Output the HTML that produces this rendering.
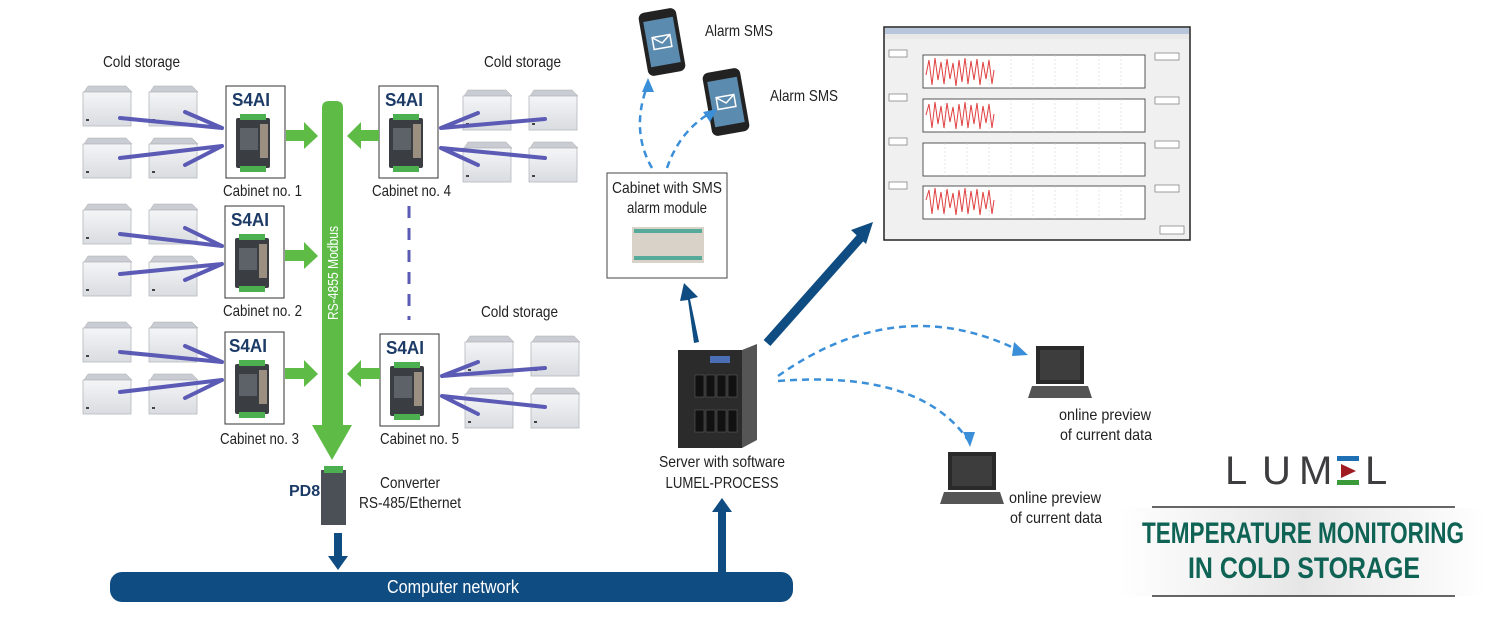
<!DOCTYPE html>
<html><head><meta charset="utf-8"><style>
html,body{margin:0;padding:0;background:#fff;}
svg{display:block;}
text{font-family:"Liberation Sans Narrow","Liberation Sans",sans-serif;}
</style></head><body>
<svg width="1500" height="617" viewBox="0 0 1500 617" xmlns="http://www.w3.org/2000/svg">
<defs>
<linearGradient id="fz" x1="0" y1="0" x2="0" y2="1"><stop offset="0" stop-color="#f4f5f7"/><stop offset="1" stop-color="#d9dce0"/></linearGradient>
<linearGradient id="tb" x1="0" y1="0" x2="1" y2="0"><stop offset="0" stop-color="#fff"/><stop offset="0.5" stop-color="#e6e6e6"/><stop offset="1" stop-color="#fff"/></linearGradient>
<g id="frz">
 <path d="M2 6 L6 0 L44 0 L50 6 Z" fill="#c9ccd2" stroke="#aaa" stroke-width="0.5"/>
 <rect x="1" y="6" width="48" height="34" fill="url(#fz)" stroke="#b5b8bd" stroke-width="0.8"/>
 <rect x="4" y="33" width="3" height="2" fill="#444"/>
</g>
<g id="dev">
 <rect x="0" y="4" width="34" height="50" rx="2" fill="#3a3e42"/>
 <rect x="4" y="0" width="26" height="6" fill="#4caf50"/>
 <rect x="4" y="52" width="26" height="6" fill="#4caf50"/>
 <rect x="4" y="14" width="18" height="22" fill="#5c6268"/>
 <rect x="24" y="10" width="8" height="34" fill="#9a8f80"/>
</g>
<g id="grp">
 <use href="#frz" x="0" y="0"/><use href="#frz" x="66" y="0"/>
 <use href="#frz" x="0" y="52"/><use href="#frz" x="66" y="52"/>
</g>
<g id="phone">
 <rect x="0" y="0" width="38" height="64" rx="6" fill="#222"/>
 <rect x="4" y="9" width="30" height="46" fill="#5c8bb0"/>
 <rect x="10" y="26" width="18" height="12" fill="none" stroke="#fff" stroke-width="1.5"/>
 <path d="M10 26 L19 33 L28 26" fill="none" stroke="#fff" stroke-width="1.5"/>
</g>
<g id="laptop">
 <path d="M4 0 H52 V38 H4 Z" fill="#2a2a2a"/>
 <rect x="8" y="4" width="40" height="30" fill="#3d3d3d"/>
 <path d="M0 40 H56 L60 52 H-4 Z" fill="#555"/>
</g>
</defs>

<use href="#grp" x="82" y="86"/>
<use href="#grp" x="82" y="204"/>
<use href="#grp" x="82" y="322"/>
<use href="#grp" x="462" y="90"/>
<use href="#grp" x="464" y="336"/>

<g stroke="#5b5bb6" stroke-width="4" fill="none" stroke-linecap="round">
 <path d="M120 118 L222 128 M185 112 L222 128 M120 158 L222 146 M185 165 L222 146"/>
 <path d="M120 234 L222 246 M185 228 L222 246 M120 274 L222 264 M185 280 L222 264"/>
 <path d="M120 352 L222 362 M185 346 L222 362 M120 392 L222 380 M185 398 L222 380"/>
 <path d="M545 119 L441 128 M478 113 L441 128 M545 158 L441 148 M478 165 L441 148"/>
 <path d="M545 368 L442 376 M478 362 L442 376 M545 407 L442 396 M478 414 L442 396"/>
</g>
<path d="M409 206 V320" stroke="#5b5bb6" stroke-width="3" stroke-dasharray="12 10"/>

<g fill="#fff" stroke="#333" stroke-width="1">
 <rect x="226" y="86" width="59" height="92"/>
 <rect x="225" y="206" width="59" height="92"/>
 <rect x="225" y="332" width="59" height="92"/>
 <rect x="379" y="86" width="59" height="92"/>
 <rect x="380" y="334" width="59" height="92"/>
</g>
<use href="#dev" x="236" y="114"/><use href="#dev" x="235" y="234"/><use href="#dev" x="235" y="360"/>
<use href="#dev" x="389" y="114"/><use href="#dev" x="390" y="362"/>
<g font-weight="bold" font-size="18" fill="#1b3a66">
 <text x="232" y="106" textLength="38" lengthAdjust="spacingAndGlyphs">S4AI</text><text x="231" y="226" textLength="38" lengthAdjust="spacingAndGlyphs">S4AI</text><text x="229" y="352" textLength="38" lengthAdjust="spacingAndGlyphs">S4AI</text>
 <text x="385" y="106" textLength="38" lengthAdjust="spacingAndGlyphs">S4AI</text><text x="386" y="354" textLength="38" lengthAdjust="spacingAndGlyphs">S4AI</text>
</g>
<g font-size="16" fill="#222" lengthAdjust="spacingAndGlyphs">
 <text x="103" y="67" textLength="77" lengthAdjust="spacingAndGlyphs">Cold storage</text>
 <text x="484" y="67" textLength="77" lengthAdjust="spacingAndGlyphs">Cold storage</text>
 <text x="481" y="317" textLength="77" lengthAdjust="spacingAndGlyphs">Cold storage</text>
 <text x="223" y="196" textLength="79" lengthAdjust="spacingAndGlyphs">Cabinet no. 1</text>
 <text x="223" y="316" textLength="79" lengthAdjust="spacingAndGlyphs">Cabinet no. 2</text>
 <text x="220" y="444" textLength="79" lengthAdjust="spacingAndGlyphs">Cabinet no. 3</text>
 <text x="372" y="196" textLength="79" lengthAdjust="spacingAndGlyphs">Cabinet no. 4</text>
 <text x="380" y="444" textLength="79" lengthAdjust="spacingAndGlyphs">Cabinet no. 5</text>
</g>

<g fill="#5dbb46">
 <path d="M322 108 Q322 101 329 101 H336 Q343 101 343 108 V425 H352 L332 460 L312 425 H322 Z"/>
 <path d="M286 130 H304 V122 L318 136 L304 149 V141 H286 Z"/>
 <path d="M285 250 H304 V242 L318 256 L304 269 V261 H285 Z"/>
 <path d="M285 368 H304 V360 L318 374 L304 387 V379 H285 Z"/>
 <path d="M379 130 H361 V122 L347 136 L361 149 V141 H379 Z"/>
 <path d="M380 368 H361 V360 L347 374 L361 387 V379 H380 Z"/>
</g>
<text transform="translate(338,320) rotate(-90)" font-size="15" fill="#fff" textLength="94" lengthAdjust="spacingAndGlyphs">RS-4855 Modbus</text>

<rect x="321" y="470" width="25" height="55" fill="#4a5055"/>
<rect x="324" y="466" width="19" height="7" fill="#4caf50"/>
<text x="289" y="496" font-weight="bold" font-size="16" fill="#1b3a66">PD8</text>
<g font-size="16" fill="#222">
<text x="380" y="488" textLength="60" lengthAdjust="spacingAndGlyphs">Converter</text>
<text x="359" y="508" textLength="102" lengthAdjust="spacingAndGlyphs">RS-485/Ethernet</text>
</g>

<rect x="110" y="572" width="683" height="30" rx="12" fill="#0f4c81"/>
<text x="453" y="593" font-size="18" fill="#fff" text-anchor="middle" textLength="132" lengthAdjust="spacingAndGlyphs">Computer network</text>
<path d="M334 533 H342 V556 H348 L338 570 L328 556 H334 Z" fill="#0f4c81"/>
<path d="M718 572 V512 H712 L722 498 L732 512 H726 V572 Z" fill="#0f4c81"/>

<rect x="678" y="350" width="64" height="98" fill="#2b2b2b"/>
<path d="M742 350 L757 344 V440 L742 448 Z" fill="#555"/>
<g fill="#111" stroke="#666" stroke-width="0.5">
 <rect x="706" y="375" width="9" height="22"/><rect x="717" y="375" width="9" height="22"/><rect x="728" y="375" width="9" height="22"/><rect x="695" y="375" width="9" height="22"/>
 <rect x="706" y="410" width="9" height="22"/><rect x="717" y="410" width="9" height="22"/><rect x="728" y="410" width="9" height="22"/><rect x="695" y="410" width="9" height="22"/>
</g>
<rect x="710" y="356" width="20" height="7" fill="#4a6fb5"/>
<g font-size="16" fill="#222" text-anchor="middle">
<text x="722" y="467" textLength="126" lengthAdjust="spacingAndGlyphs">Server with software</text>
<text x="722" y="488" textLength="113" lengthAdjust="spacingAndGlyphs">LUMEL-PROCESS</text>
</g>

<path d="M694 343 L688 300 L680 301 L684 283 L698 297 L690 299 L699 342 Z" fill="#0f4c81"/>
<path d="M767 343 L862 236" stroke="#0f4c81" stroke-width="9"/>
<path d="M873 222 L851 230 L866 244 Z" fill="#0f4c81"/>

<rect x="607" y="173" width="120" height="105" fill="#fff" stroke="#444"/>
<g font-size="16" fill="#222" text-anchor="middle">
<text x="667" y="193" textLength="110" lengthAdjust="spacingAndGlyphs">Cabinet with SMS</text>
<text x="667" y="213" textLength="80" lengthAdjust="spacingAndGlyphs">alarm module</text>
</g>
<rect x="632" y="227" width="72" height="36" fill="#d8d2c8"/>
<rect x="634" y="229" width="68" height="4" fill="#5a9"/>
<rect x="634" y="256" width="68" height="4" fill="#5a9"/>

<use href="#phone" transform="translate(643,10) rotate(-10 19 32)"/>
<use href="#phone" transform="translate(707,70) rotate(-10 19 32)"/>
<g font-size="16" fill="#222">
<text x="705" y="36" textLength="68" lengthAdjust="spacingAndGlyphs">Alarm SMS</text>
<text x="770" y="101" textLength="68" lengthAdjust="spacingAndGlyphs">Alarm SMS</text>
</g>
<g fill="none" stroke="#3a8fd8" stroke-width="2.5" stroke-dasharray="7 5">
 <path d="M652 168 Q630 130 648 84"/>
 <path d="M667 168 Q680 130 712 112"/>
 <path d="M778 376 Q900 290 1022 352"/>
 <path d="M778 381 Q920 370 968 440"/>
</g>
<g fill="#3a8fd8">
 <path d="M648 78 L642 92 L654 92 Z"/>
 <path d="M717 109 L703 112 L710 122 Z"/>
 <path d="M1028 355 L1014 342 L1012 356 Z"/>
 <path d="M970 447 L963 432 L975 432 Z"/>
</g>

<use href="#laptop" x="1032" y="346"/>
<use href="#laptop" x="944" y="452"/>
<g font-size="16" fill="#222" text-anchor="middle">
<text x="1105" y="420" textLength="92" lengthAdjust="spacingAndGlyphs">online preview</text>
<text x="1106" y="440" textLength="92" lengthAdjust="spacingAndGlyphs">of current data</text>
<text x="1055" y="503" textLength="92" lengthAdjust="spacingAndGlyphs">online preview</text>
<text x="1056" y="523" textLength="92" lengthAdjust="spacingAndGlyphs">of current data</text>
</g>

<rect x="884" y="27" width="306" height="213" fill="#f0f0f0" stroke="#222" stroke-width="1.5"/>
<rect x="885" y="28" width="304" height="6" fill="#b7c6da"/>
<rect x="885" y="34" width="304" height="5" fill="#e8e8e8"/>
<g fill="#fff" stroke="#555" stroke-width="1">
 <rect x="923" y="55" width="222" height="33"/><rect x="923" y="99" width="222" height="33"/>
 <rect x="923" y="143" width="222" height="33"/><rect x="923" y="186" width="222" height="33"/>
</g>
<g fill="#fff" stroke="#777" stroke-width="0.7">
 <rect x="889" y="50" width="18" height="7"/><rect x="889" y="94" width="18" height="7"/><rect x="889" y="138" width="18" height="7"/><rect x="889" y="182" width="18" height="7"/>
 <rect x="1155" y="53" width="24" height="7"/><rect x="1155" y="97" width="24" height="7"/><rect x="1155" y="141" width="24" height="7"/><rect x="1155" y="185" width="24" height="7"/>
 <rect x="1160" y="226" width="24" height="8"/>
</g>
<g stroke="#ccc" stroke-width="0.5" stroke-dasharray="2 2">
 <path d="M945 55 V88 M967 55 V88 M989 55 V88 M1011 55 V88 M1033 55 V88 M1055 55 V88 M1077 55 V88 M1099 55 V88 M1121 55 V88"/>
 <path d="M945 99 V132 M967 99 V132 M989 99 V132 M1011 99 V132 M1033 99 V132 M1055 99 V132 M1077 99 V132 M1099 99 V132 M1121 99 V132"/>
 <path d="M945 143 V176 M967 143 V176 M989 143 V176 M1011 143 V176 M1033 143 V176 M1055 143 V176 M1077 143 V176 M1099 143 V176 M1121 143 V176"/>
 <path d="M945 186 V219 M967 186 V219 M989 186 V219 M1011 186 V219 M1033 186 V219 M1055 186 V219 M1077 186 V219 M1099 186 V219 M1121 186 V219"/>
</g>
<g fill="none" stroke="#e04040" stroke-width="1">
 <path d="M926 75 L929 60 L932 85 L935 58 L938 80 L941 62 L944 84 L947 59 L950 79 L953 63 L956 86 L959 60 L962 82 L965 58 L968 84 L971 61 L974 80 L977 59 L980 85 L983 62 L986 79 L989 60 L992 84 L994 70"/>
 <path d="M926 115 L929 104 L932 128 L935 102 L938 124 L941 106 L944 128 L947 103 L950 122 L953 107 L956 129 L959 104 L962 126 L965 102 L968 128 L971 105 L974 124 L977 103 L980 129 L983 106 L986 123 L989 104 L992 128 L994 114"/>
 <path d="M926 200 L929 190 L932 214 L935 188 L938 210 L941 192 L944 214 L947 189 L950 208 L953 193 L956 215 L959 190 L962 212 L965 188 L968 214 L971 191 L974 210 L977 189 L980 215 L983 192 L986 209 L989 190 L992 214 L994 200"/>
</g>

<g font-family="Liberation Sans,sans-serif" font-size="40" fill="#3d3d3f">
<text x="1225" y="484">L</text>
<text x="1262" y="484">U</text>
<text x="1299" y="484">M</text>
<text x="1365" y="484">L</text>
</g>
<rect x="1337" y="456" width="22" height="5" fill="#1f6fb4"/>
<path d="M1341 464 L1356 471 L1341 478 Z" fill="#a01a22"/>
<rect x="1337" y="480" width="22" height="5" fill="#3a9a3a"/>

<rect x="1120" y="508" width="365" height="88" fill="url(#tb)"/>
<line x1="1152" y1="507" x2="1455" y2="507" stroke="#333" stroke-width="1.5"/>
<line x1="1152" y1="596" x2="1455" y2="596" stroke="#333" stroke-width="1.5"/>
<g font-weight="bold" fill="#0f6355" text-anchor="middle" font-size="30">
 <text x="1303" y="543" textLength="322" lengthAdjust="spacingAndGlyphs">TEMPERATURE MONITORING</text>
 <text x="1304" y="578" textLength="232" lengthAdjust="spacingAndGlyphs">IN COLD STORAGE</text>
</g>
</svg>
</body></html>
